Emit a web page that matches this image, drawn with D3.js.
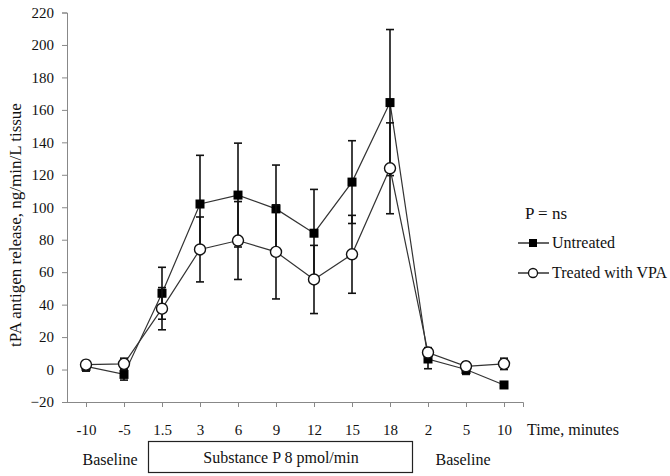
<!DOCTYPE html>
<html><head><meta charset="utf-8">
<script src="https://cdn.jsdelivr.net/npm/d3@7"></script>
<style>body{margin:0;background:#fff}svg{display:block}</style>
</head><body><svg id="c" width="670" height="476"></svg>
<script>
const categories = ["-10","-5","1.5","3","6","9","12","15","18","2","5","10"];
const untreated = [2, -3, 47, 102, 107.5, 99, 84, 115.5, 164.5, 6.5, 0, -9.5];
const untreatedErr = [3, 3.5, 16, 30, 32, 27, 27, 25.5, 45, 6, 3, 1];
const treated = [3, 3.5, 37.5, 74, 79.5, 72.5, 55.5, 71, 124, 10.5, 2, 3.5];
const treatedErr = [2.5, 3.5, 13, 20, 24, 29, 21, 24, 28, 3, 2.5, 3.5];
const yTicks = [-20,0,20,40,60,80,100,120,140,160,180,200,220];
const seriesNames = ["Untreated","Treated with VPA"];

const FONT = "'Liberation Serif', Tinos, 'Times New Roman', Times, 'DejaVu Serif', serif";
const svg = d3.select("#c").attr("font-family", FONT);
const x = d3.scalePoint().domain(categories).range([67,523]).padding(0.5);
const y = d3.scaleLinear().domain([-20,220]).range([402,12.5]);
const axisColor = "#888";

function txt(sel){ return sel.attr("font-family", FONT).attr("fill","#111"); }

// y axis
const ya = svg.append("g").attr("transform","translate(67,0)")
  .call(d3.axisLeft(y).tickValues(yTicks).tickSize(5).tickPadding(8));
ya.attr("font-family", FONT).attr("font-size", 15);
ya.selectAll("path,line").attr("stroke",axisColor);
ya.selectAll("text").attr("fill","#111");
// x axis
const xa = svg.append("g").attr("transform","translate(0,402)")
  .call(d3.axisBottom(x).tickSize(5).tickSizeOuter(0).tickPadding(17));
xa.attr("font-family", FONT).attr("font-size", 15);
xa.selectAll("path,line").attr("stroke",axisColor);
xa.select(".domain").attr("d","M67,0.5H523.5V5");
xa.selectAll("text").attr("fill","#111");

txt(svg.append("text")).attr("x",527).attr("y",435).attr("font-size",16).text("Time, minutes");
txt(svg.append("text")).attr("transform","translate(21,225) rotate(-90)").attr("text-anchor","middle")
  .attr("font-size",17).text("tPA antigen release, ng/min/L  tissue");

// bottom labels
txt(svg.append("text")).attr("x",110).attr("y",465).attr("text-anchor","middle").attr("font-size",16).text("Baseline");
txt(svg.append("text")).attr("x",463).attr("y",465).attr("text-anchor","middle").attr("font-size",16).text("Baseline");
svg.append("rect").attr("x",148.5).attr("y",441.5).attr("width",264).attr("height",31).attr("fill","none").attr("stroke","#222").attr("stroke-width",1.2);
txt(svg.append("text")).attr("x",281).attr("y",463).attr("text-anchor","middle").attr("font-size",16).text("Substance P 8 pmol/min");

function drawSeries(vals, errs){
  const g = svg.append("g");
  g.append("path").datum(vals).attr("fill","none").attr("stroke","#333").attr("stroke-width",1.2)
    .attr("d", d3.line().x((d,i)=>x(categories[i])).y(d=>y(d)));
  vals.forEach((v,i)=>{
    const cx = x(categories[i]);
    const e = errs[i];
    g.append("line").attr("x1",cx).attr("x2",cx).attr("y1",y(v+e)).attr("y2",y(v-e)).attr("stroke","#111").attr("stroke-width",1.6);
    [v+e, v-e].forEach(t=>g.append("line").attr("x1",cx-4).attr("x2",cx+4).attr("y1",y(t)).attr("y2",y(t)).attr("stroke","#111").attr("stroke-width",1.6));
  });
  return g;
}
const gU = drawSeries(untreated, untreatedErr);
const gT = drawSeries(treated, treatedErr);
gU.selectAll(null).data(untreated).enter().append("rect")
  .attr("x",(d,i)=>x(categories[i])-4.5).attr("y",d=>y(d)-4.5).attr("width",9).attr("height",9).attr("fill","#000");
gT.selectAll(null).data(treated).enter().append("circle")
  .attr("cx",(d,i)=>x(categories[i])).attr("cy",d=>y(d)).attr("r",5.5).attr("fill","#fff").attr("stroke","#111").attr("stroke-width",1.4);

// legend
const lg = svg.append("g");
txt(lg.append("text")).attr("x",525).attr("y",219).attr("font-size",17).text("P = ns");
[0,1].forEach(k=>{
  const ly = 243 + k*30;
  lg.append("line").attr("x1",518).attr("x2",549).attr("y1",ly).attr("y2",ly).attr("stroke","#111").attr("stroke-width",1.3);
  if(k===0) lg.append("rect").attr("x",529).attr("y",ly-4).attr("width",8).attr("height",8).attr("fill","#000");
  else lg.append("circle").attr("cx",533).attr("cy",ly).attr("r",4.5).attr("fill","#fff").attr("stroke","#111").attr("stroke-width",1.3);
  txt(lg.append("text")).attr("x",552).attr("y",ly+5).attr("font-size",16).text(seriesNames[k]);
});
</script></body></html>
